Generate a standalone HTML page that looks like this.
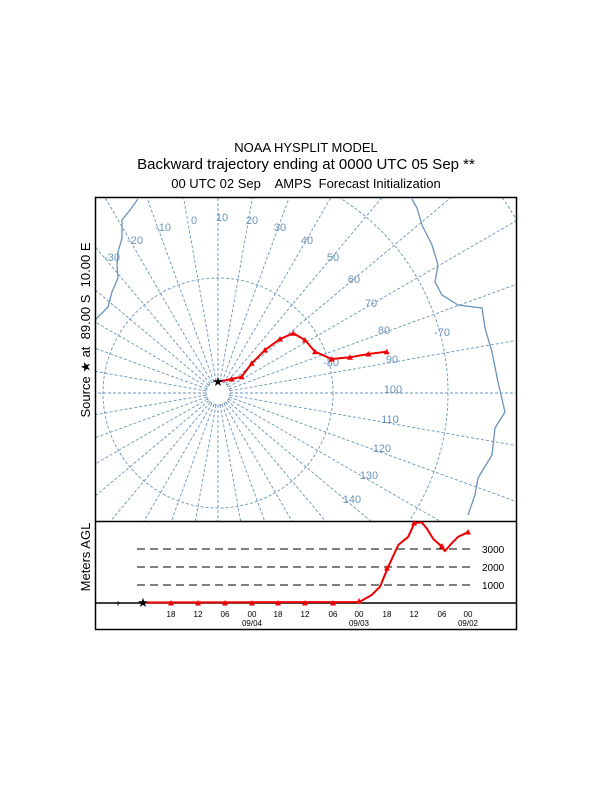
<!DOCTYPE html>
<html><head><meta charset="utf-8"><style>
html,body{margin:0;padding:0;background:#fff;width:612px;height:792px;overflow:hidden}
svg{display:block;font-family:"Liberation Sans",Arial,sans-serif}
</style></head><body>
<svg id="s" width="612" height="792" viewBox="0 0 612 792" xmlns="http://www.w3.org/2000/svg">
<defs><clipPath id="c"><rect x="96" y="198" width="420" height="323"/></clipPath></defs>
<text x="306" y="152" font-size="13" text-anchor="middle">NOAA HYSPLIT MODEL</text>
<text x="306" y="169" font-size="15" text-anchor="middle">Backward trajectory ending at 0000 UTC 05 Sep **</text>
<text x="306" y="188" font-size="13" text-anchor="middle" xml:space="preserve">00 UTC 02 Sep    AMPS  Forecast Initialization</text>
<text transform="translate(90,330) rotate(-90)" font-size="13" text-anchor="middle" xml:space="preserve">Source ★ at  89.00 S  10.00 E</text>
<text transform="translate(90,557) rotate(-90)" font-size="13" text-anchor="middle">Meters AGL</text>
<g id="grid" clip-path="url(#c)" stroke="#6a93bb" stroke-width="0.9" fill="none" stroke-dasharray="3,2"></g>
<g clip-path="url(#c)" stroke="#6a93bb" stroke-width="1.3" fill="none">
<polyline points="138,199 130,210 122,220 122,238 118,252 117,265 118,278 112,292 108,307 98,317 95,320"/>
<polyline points="412,199 417,208 422,225 432,245 438,265 435,282 442,295 458,305 482,308 485,328 492,352 498,382 505,412 495,428 492,455 478,478 475,495 468,515"/>
</g>
<g fill="#6a93bb" font-size="11" text-anchor="middle">
<text x="163" y="231">-10</text><text x="194" y="224">0</text><text x="222" y="221">10</text>
<text x="252" y="224">20</text><text x="280" y="231">30</text><text x="307" y="244">40</text>
<text x="333" y="261">50</text><text x="354" y="283">60</text><text x="371" y="307">70</text>
<text x="384" y="334">80</text><text x="392" y="363">90</text><text x="393" y="393">100</text>
<text x="390" y="423">110</text><text x="382" y="452">120</text><text x="369" y="479">130</text>
<text x="352" y="503">140</text><text x="135" y="244">-20</text><text x="112" y="261">-30</text>
<text x="442" y="336">-70</text><text x="331" y="366">-80</text>
</g>
<polyline fill="none" stroke="#e00" stroke-width="2" points="218.3,381.7 231.7,379 241.7,376.7 251.7,363.3 265,350 280,339 293.3,333.3 305,340 315,351.7 331.7,359 350,357.3 368.3,354 386.7,351.7"/>
<g fill="#e00" id="tri1"></g>
<text x="218" y="386" font-size="13" text-anchor="middle">★</text>
<rect x="95.5" y="197.5" width="421" height="432" fill="none" stroke="#000" stroke-width="1.5"/>
<line x1="95" y1="521.5" x2="517" y2="521.5" stroke="#000" stroke-width="1.5"/>
<line x1="95" y1="603" x2="517" y2="603" stroke="#000" stroke-width="1.5"/>
<g stroke="#000" stroke-dasharray="8,5" stroke-width="1"><line x1="137" y1="549" x2="475" y2="549"/><line x1="137" y1="567" x2="475" y2="567"/><line x1="137" y1="585" x2="475" y2="585"/></g>
<g font-size="10" text-anchor="start"><text x="482" y="553">3000</text><text x="482" y="571">2000</text><text x="482" y="589">1000</text></g>
<polyline fill="none" stroke="#e00" stroke-width="2" points="143,602.5 359.3,602 371.7,595 380,586.7 388.3,566.7 398.3,545 408.3,536.7 414.3,523.3 421.7,522.3 426.7,528.3 433.3,539 440,545 445,551 451.7,543.3 458.3,536.7 467.7,532.3"/>
<g fill="#e00" id="tri2"></g>
<text x="143" y="607" font-size="13" text-anchor="middle">★</text>
<text x="118" y="607" font-size="10" text-anchor="middle">+</text>
<g font-size="8" text-anchor="middle">
<text x="171" y="617">18</text><text x="198" y="617">12</text><text x="225" y="617">06</text><text x="252" y="617">00</text>
<text x="278" y="617">18</text><text x="305" y="617">12</text><text x="333" y="617">06</text><text x="359" y="617">00</text>
<text x="387" y="617">18</text><text x="414" y="617">12</text><text x="442" y="617">06</text><text x="468" y="617">00</text>
<text x="252" y="626">09/04</text><text x="359" y="626">09/03</text><text x="468" y="626">09/02</text>
</g>
</svg>
<script>
var NS="http://www.w3.org/2000/svg",g=document.getElementById("grid"),cx=218,cy=393;
function el(n,a,p){var e=document.createElementNS(NS,n);for(var k in a)e.setAttribute(k,a[k]);p.appendChild(e);return e;}
[12,115,230,345].forEach(function(r){el("circle",{cx:cx,cy:cy,r:r},g);});
for(var i=0;i<36;i++){var a=i*10*Math.PI/180;el("line",{x1:cx+12*Math.cos(a),y1:cy-12*Math.sin(a),x2:cx+700*Math.cos(a),y2:cy-700*Math.sin(a)},g);}
function tri(p,x,y){el("polygon",{points:(x-3)+","+(y+2.5)+" "+(x+3)+","+(y+2.5)+" "+x+","+(y-3)},p);}
var t1=document.getElementById("tri1");
[[231.7,379],[241.7,376.7],[251.7,363.3],[265,350],[280,339],[293.3,333.3],[305,340],[315,351.7],[331.7,359],[350,357.3],[368.3,354],[386.7,351.7]].forEach(function(p){tri(t1,p[0],p[1]);});
var t2=document.getElementById("tri2");
[[171,603],[198,603],[225,603],[252,603],[278,603],[305,603],[333,603],[359,601],[387,568],[414,523],[442,546],[468,532]].forEach(function(p){tri(t2,p[0],p[1]);});
</script>
</body></html>
